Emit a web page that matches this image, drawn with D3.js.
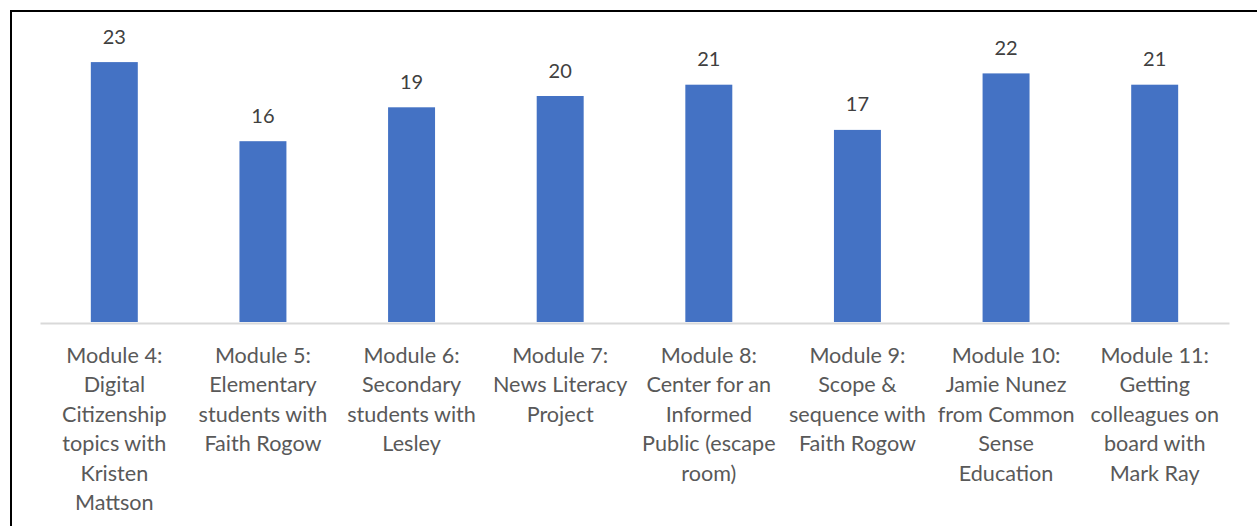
<!DOCTYPE html>
<html>
<head>
<meta charset="utf-8">
<script src="https://cdn.jsdelivr.net/npm/d3@7"></script>
<style>
  html, body { margin: 0; padding: 0; background: #fff; }
  svg { display: block; }
</style>
</head>
<body>
<svg id="chart" width="1257" height="526"></svg>
<script>
// Module titles, one entry per wrapped line
const categories = [
  ["Module 4:", "Digital", "Citizenship", "topics with", "Kristen", "Mattson"],
  ["Module 5:", "Elementary", "students with", "Faith Rogow"],
  ["Module 6:", "Secondary", "students with", "Lesley"],
  ["Module 7:", "News Literacy", "Project"],
  ["Module 8:", "Center for an", "Informed", "Public (escape", "room)"],
  ["Module 9:", "Scope &", "sequence with", "Faith Rogow"],
  ["Module 10:", "Jamie Nunez", "from Common", "Sense", "Education"],
  ["Module 11:", "Getting", "colleagues on", "board with", "Mark Ray"]
];
const values = [23, 16, 19, 20, 21, 17, 22, 21];
const yDomain = [0, 25];

const svg = d3.select("#chart");
const W = 1257, H = 526;
const fontFamily = "Lato, 'Liberation Sans', sans-serif";

// frame lines (left and top)
svg.append("line").attr("x1", 11).attr("x2", 11).attr("y1", 10).attr("y2", H)
  .attr("stroke", "#000").attr("stroke-width", 2);
svg.append("line").attr("x1", 10).attr("x2", W).attr("y1", 11).attr("y2", 11)
  .attr("stroke", "#000").attr("stroke-width", 2);

const plot = { left: 40, right: 1229, top: 39.5, bottom: 322 };

const x = d3.scaleBand()
  .domain(d3.range(values.length))
  .range([plot.left, plot.right])
  .paddingInner(0.684)
  .paddingOuter(0.342);

const y = d3.scaleLinear().domain(yDomain).range([plot.bottom, plot.top]);

// bars
svg.append("g").selectAll("rect")
  .data(values)
  .join("rect")
  .attr("x", (d, i) => x(i))
  .attr("y", d => y(d))
  .attr("width", x.bandwidth())
  .attr("height", d => y(0) - y(d))
  .attr("fill", "#4472C4");

// value labels
svg.append("g").selectAll("text")
  .data(values)
  .join("text")
  .attr("x", (d, i) => x(i) + x.bandwidth() / 2)
  .attr("y", d => y(d) - 18.5)
  .attr("text-anchor", "middle")
  .attr("font-family", fontFamily)
  .attr("font-size", 20)
  .attr("fill", "#404040")
  .text(d => d);

// category axis
const xAxis = d3.axisBottom(x).tickSize(0).tickFormat("");
const axisG = svg.append("g")
  .attr("transform", `translate(0,${y(0) + 1})`)
  .call(xAxis);
axisG.select(".domain").attr("stroke", "#d9d9d9").attr("stroke-width", 2);

// wrapped category labels
const labels = svg.append("g").selectAll("text")
  .data(categories)
  .join("text")
  .attr("x", (d, i) => x(i) + x.bandwidth() / 2)
  .attr("y", 362.7)
  .attr("text-anchor", "middle")
  .attr("font-family", fontFamily)
  .attr("font-size", 21.6)
  .attr("fill", "#595959");

labels.selectAll("tspan")
  .data(d => d)
  .join("tspan")
  .attr("x", function () { return this.parentNode.getAttribute("x"); })
  .attr("dy", (d, j) => j === 0 ? 0 : 29.5)
  .text(d => d);
</script>
</body>
</html>
